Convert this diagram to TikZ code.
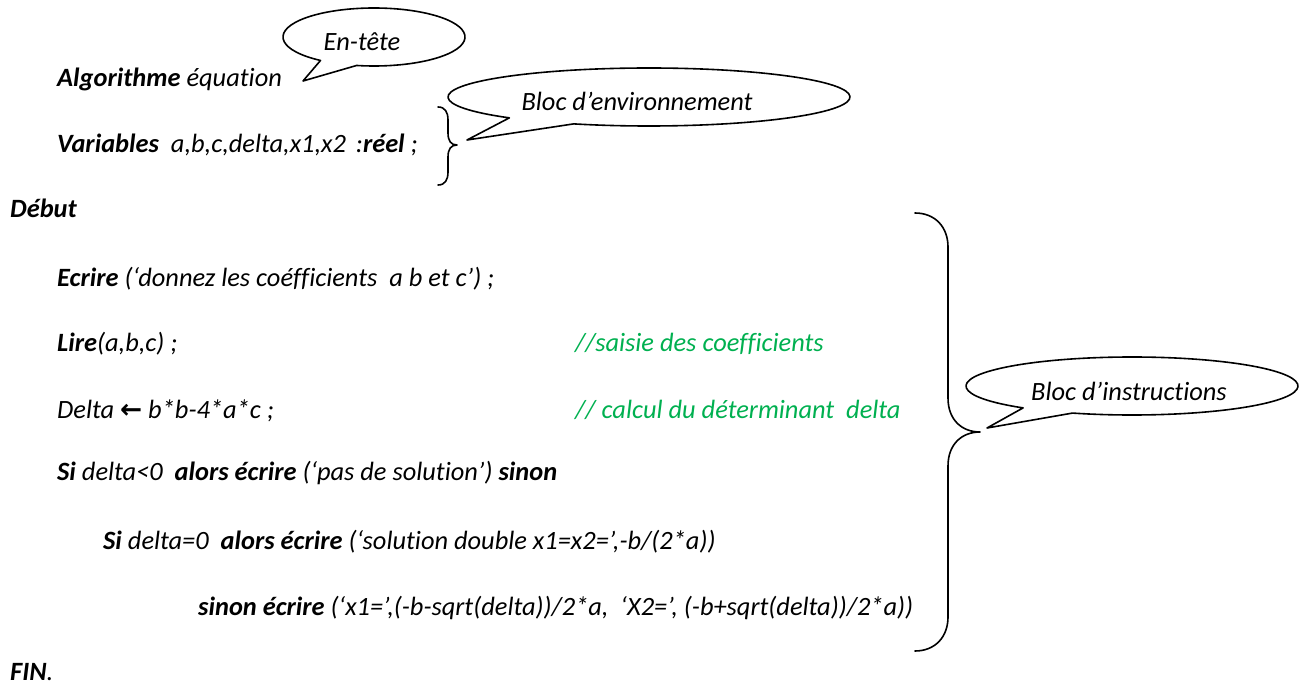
\documentclass[tikz,border=0pt]{standalone}
\usepackage{fontspec}
\setmainfont{Carlito}[Ligatures=NoCommon]
\newfontfamily\arrowfont{DejaVu Sans}
\usetikzlibrary{calc}
\definecolor{commentgreen}{RGB}{0,176,80}
\newcommand{\kwd}[1]{\textbf{#1}}
\tikzset{
  codeline/.style={anchor=base west, inner sep=0pt,
    font=\fontsize{26.4}{30}\selectfont\itshape},
  comment/.style={codeline, text=commentgreen},
  bubbletext/.style={anchor=base, inner sep=0pt,
    font=\fontsize{26.4}{30}\selectfont\itshape},
  stroke/.style={draw=black, line width=1.6pt, line join=round, line cap=round}
}
\begin{document}
\begin{tikzpicture}[x=1pt,y=-1pt]
\useasboundingbox (0,0) rectangle (1309,684);

% ---- algorithm text ----
\node[codeline] (algo) at (57,87) {\kwd{Algorithme} équation};
\node[codeline] (vars) at (57,153) {\kwd{Variables}\hspace{12pt}a,b,c,delta,x1,x2\hspace{10pt}:\kwd{réel} ;};
\node[codeline] (debut) at (10,218) {\kwd{Début}};
\node[codeline] (ecrire) at (57,287) {\kwd{Ecrire} (‘donnez les coéfficients\ \ a b et c’) ;};
\node[codeline] (lire) at (57,352) {\kwd{Lire}(a,b,c) ;};
\node[codeline] (delta) at (57,418) {Delta {\arrowfont\bfseries\upshape ←} b*b-4*a*c ;};
\node[comment] (c1) at (575,352) {//saisie des coefficients};
\node[comment] (c2) at (575,418) {// calcul du déterminant\ \ delta};
\node[codeline] (si1) at (57,480) {\kwd{Si} delta<0\ \ \kwd{alors écrire} (‘pas de solution’) \kwd{sinon}};
\node[codeline] (si2) at (103,549) {\kwd{Si} delta=0\ \ \kwd{alors écrire} (‘solution double x1=x2=’,-b/(2*a))};
\node[codeline] (sinon) at (198,615) {\kwd{sinon écrire} (‘x1=’,(-b-sqrt(delta))/2*a,\ \ ‘X2=’, (-b+sqrt(delta))/2*a))};
\node[codeline] (fin) at (10,680) {\kwd{FIN}.};

% ---- braces ----
\draw[stroke] (438,107) .. controls (445,107) and (448,112) .. (448,120)
  -- (448,133) .. controls (448,141) and (451,145) .. (457,145)
  .. controls (451,145) and (448,149) .. (448,157)
  -- (448,172) .. controls (448,180) and (445,185) .. (438,185);

\draw[stroke] (915,213) .. controls (935,213) and (948,227) .. (948,247)
  -- (948,398) .. controls (948,420) and (962,432) .. (980,432)
  .. controls (962,432) and (948,444) .. (948,466)
  -- (948,617) .. controls (948,637) and (935,651) .. (915,651);

% ---- callout: header ----
\coordinate (entc) at (374,37);
\coordinate (enttip) at (303,81);
\draw[stroke] ($(entc)+(126:91 and 29)$)
  arc[start angle=126, end angle=461, x radius=91, y radius=29]
  -- (enttip) -- cycle;
\node[bubbletext] (entete) at (362,51) {En-tête};

% ---- callout: declarations ----
\coordinate (envc) at (649,97);
\coordinate (envtip) at (467,140);
\draw[stroke] ($(envc)+(134:201 and 29)$)
  arc[start angle=134, end angle=472, x radius=201, y radius=29]
  -- (envtip) -- cycle;
\node[bubbletext] (env) at (637,111) {Bloc d’environnement};

% ---- callout: instructions ----
\coordinate (insc) at (1132,386);
\coordinate (instip) at (987,428);
\draw[stroke] ($(insc)+(131:166 and 29)$)
  arc[start angle=131, end angle=471, x radius=166, y radius=29]
  -- (instip) -- cycle;
\node[bubbletext] (ins) at (1129,400) {Bloc d’instructions};
\end{tikzpicture}
\end{document}
